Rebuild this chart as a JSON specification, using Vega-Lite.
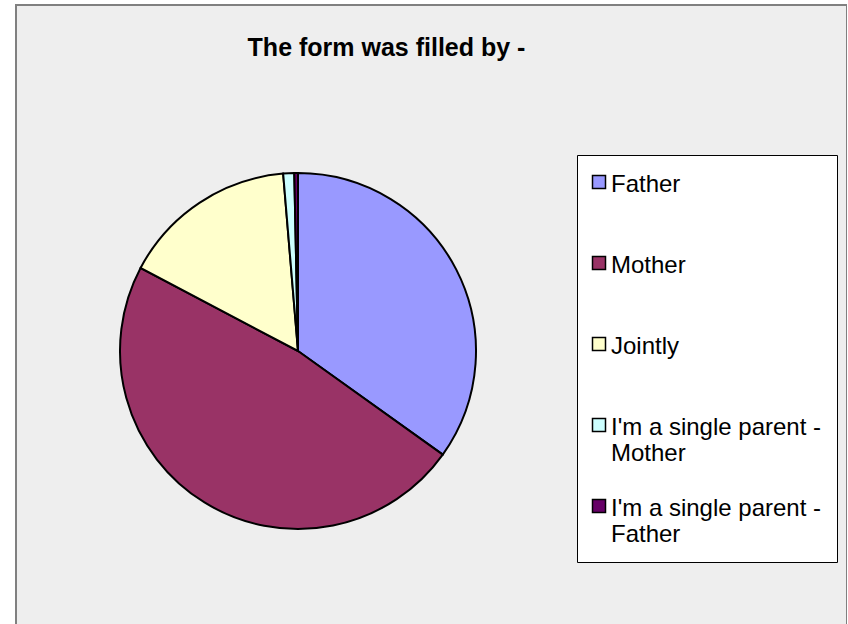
{
  "$schema": "https://vega.github.io/schema/vega-lite/v6.json",
  "width": 831,
  "height": 622,
  "autosize": {"type": "none"},
  "padding": {"left": 16, "top": 5, "right": 0, "bottom": 0},
  "background": "white",
  "title": {
    "text": "The form was filled by -",
    "anchor": "middle",
    "frame": "group",
    "orient": "top",
    "offset": -77,
    "baseline": "alphabetic",
    "dx": -45,
    "font": "Liberation Sans",
    "fontSize": 25,
    "fontWeight": "bold",
    "color": "black"
  },
  "layer": [
    {
      "data": {"values": [{"frame": 1}]},
      "mark": {"type": "rect", "fill": "#eeeeee", "stroke": "#808080", "strokeWidth": 2},
      "encoding": {}
    },
    {
      "data": {
        "values": [
          {"who": "Father", "n": 105},
          {"who": "Mother", "n": 144},
          {"who": "Jointly", "n": 48},
          {"who": "I'm a single parent - Mother", "n": 3},
          {"who": "I'm a single parent - Father", "n": 1}
        ]
      },
      "transform": [{"window": [{"op": "row_number", "as": "i"}]}],
      "mark": {"type": "arc", "outerRadius": 178, "x": 282, "y": 346, "stroke": "black", "strokeWidth": 2},
      "encoding": {
        "theta": {"field": "n", "type": "quantitative", "stack": true},
        "order": {"field": "i", "type": "quantitative", "sort": "ascending"},
        "color": {
          "field": "who",
          "type": "nominal",
          "sort": ["Father", "Mother", "Jointly", "I'm a single parent - Mother", "I'm a single parent - Father"],
          "scale": {
            "domain": ["Father", "Mother", "Jointly", "I'm a single parent - Mother", "I'm a single parent - Father"],
            "range": ["#9999ff", "#993366", "#ffffcc", "#ccffff", "#660066"]
          },
          "legend": {
            "title": null,
            "orient": "none",
            "legendX": 561,
            "legendY": 150,
            "padding": 15,
            "fillColor": "white",
            "strokeColor": "black",
            "symbolType": "square",
            "symbolSize": 169,
            "symbolOffset": -5,
            "symbolStrokeColor": "black",
            "symbolStrokeWidth": 1.5,
            "symbolOpacity": 1,
            "labelFont": "Liberation Sans",
            "labelFontSize": 24,
            "labelLineHeight": 26,
            "labelColor": "black",
            "labelLimit": 400,
            "labelOffset": 0,
            "labelBaseline": "top",
            "gridAlign": "all",
            "rowPadding": 28,
            "labelExpr": "split(replace(datum.label, ' - ', ' -@'), '@')",
            "encode": {"labels": {"update": {"dy": {"value": -9}}}}
          }
        }
      }
    }
  ]
}
